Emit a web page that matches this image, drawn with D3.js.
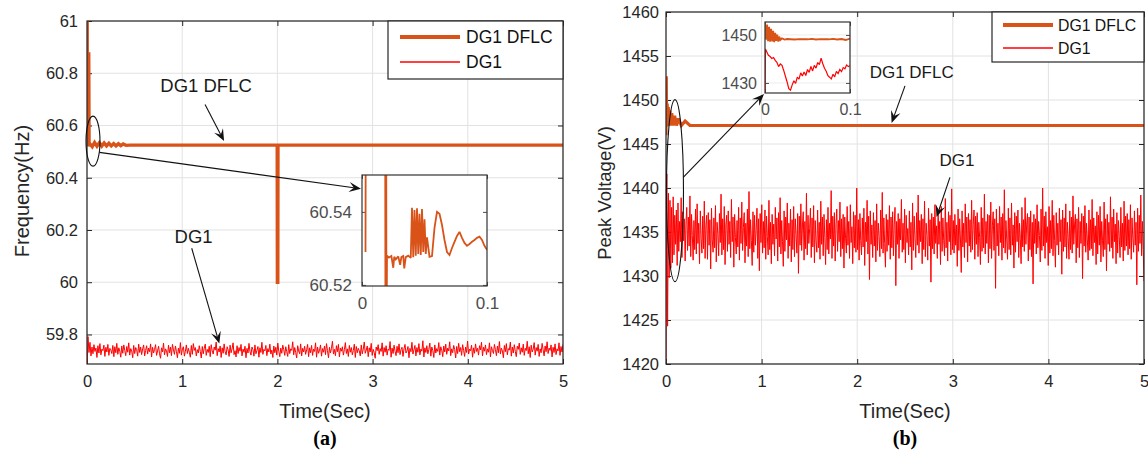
<!DOCTYPE html>
<html>
<head>
<meta charset="utf-8">
<script src="https://cdn.jsdelivr.net/npm/d3@7"></script>
<style>
  body { margin: 0; background: #fff; }
  svg text { font-family: "Liberation Sans", Arial, Helvetica, sans-serif; }
</style>
</head>
<body>
<script>
// ---------------- (a) frequency ----------------
const timeTicks = [0, 1, 2, 3, 4, 5];
const freqTicks = [59.8, 60, 60.2, 60.4, 60.6, 60.8, 61];

// DG1 with DFLC: start-up spikes, settling, and the dip at t = 2 s
const freqDflcT = [0, 0.002, 0.004, 0.006, 0.018, 0.022, 0.03, 0.055, 0.08, 0.105, 0.13, 0.155, 0.18, 0.205, 0.23, 0.255, 0.28, 0.305, 0.33, 0.355, 0.38, 0.41, 0.45, 1.998, 2.0, 2.004, 2.006, 5];
const freqDflcV = [60.52, 61.0, 60.52, 60.53, 60.88, 60.52, 60.53, 60.519, 60.535, 60.521, 60.534, 60.521, 60.533, 60.522, 60.532, 60.522, 60.531, 60.522, 60.530, 60.523, 60.529, 60.524, 60.525, 60.525, 60.0, 60.0, 60.525, 60.525];

// DG1 without DFLC, uniformly sampled over 0..5 s
const freqDg1 = [
  59.650, 59.792, 59.731, 59.770, 59.718, 59.752, 59.726, 59.761, 59.735, 59.748, 59.712, 59.757, 59.729, 59.765, 59.722, 59.744, 59.738, 59.759, 59.716, 59.751,
  59.733, 59.762, 59.720, 59.747, 59.741, 59.727, 59.758, 59.715, 59.753, 59.730, 59.766, 59.724, 59.749, 59.736, 59.713, 59.756, 59.728, 59.760, 59.739, 59.719,
  59.754, 59.732, 59.768, 59.721, 59.746, 59.737, 59.711, 59.758, 59.727, 59.750, 59.742, 59.717, 59.763, 59.731, 59.752, 59.723, 59.745, 59.760, 59.718, 59.739,
  59.757, 59.725, 59.748, 59.734, 59.764, 59.714, 59.751, 59.729, 59.743, 59.761, 59.720, 59.737, 59.755, 59.726, 59.709, 59.749, 59.733, 59.767, 59.722, 59.745,
  59.738, 59.716, 59.759, 59.730, 59.752, 59.719, 59.762, 59.741, 59.724, 59.756, 59.735, 59.711, 59.748, 59.728, 59.769, 59.721, 59.744, 59.753, 59.717, 59.736,
  59.760, 59.727, 59.747, 59.732, 59.713, 59.758, 59.724, 59.765, 59.739, 59.750, 59.718, 59.742, 59.729, 59.757, 59.735, 59.710, 59.754, 59.726, 59.748, 59.763,
  59.720, 59.743, 59.731, 59.755, 59.715, 59.761, 59.737, 59.725, 59.752, 59.740, 59.771, 59.719, 59.746, 59.733, 59.756, 59.712, 59.749, 59.728, 59.764, 59.734,
  59.722, 59.753, 59.741, 59.716, 59.759, 59.730, 59.745, 59.768, 59.723, 59.738, 59.714, 59.757, 59.727, 59.750, 59.736, 59.762, 59.718, 59.744, 59.732, 59.755,
  59.711, 59.747, 59.729, 59.766, 59.735, 59.721, 59.752, 59.742, 59.717, 59.760, 59.726, 59.739, 59.754, 59.713, 59.749, 59.731, 59.770, 59.724, 59.743, 59.737,
  59.758, 59.719, 59.746, 59.733, 59.763, 59.725, 59.740, 59.712, 59.756, 59.730, 59.751, 59.721, 59.767, 59.736, 59.715, 59.748, 59.728, 59.759, 59.742, 59.720,
  59.753, 59.734, 59.716, 59.761, 59.727, 59.745, 59.739, 59.772, 59.722, 59.750, 59.731, 59.710, 59.757, 59.737, 59.726, 59.764, 59.718, 59.747, 59.733, 59.755,
  59.724, 59.741, 59.762, 59.715, 59.749, 59.730, 59.758, 59.720, 59.744, 59.735, 59.768, 59.713, 59.752, 59.728, 59.740, 59.760, 59.717, 59.746, 59.732, 59.756,
  59.723, 59.765, 59.738, 59.711, 59.751, 59.729, 59.747, 59.774, 59.725, 59.743, 59.719, 59.757, 59.734, 59.762, 59.714, 59.748, 59.736, 59.753, 59.721, 59.742,
  59.769, 59.727, 59.745, 59.716, 59.758, 59.732, 59.750, 59.722, 59.739, 59.763, 59.712, 59.754, 59.730, 59.747, 59.737, 59.718, 59.760, 59.726, 59.744, 59.771,
  59.728, 59.740, 59.756, 59.715, 59.749, 59.733, 59.766, 59.720, 59.743, 59.731, 59.709, 59.752, 59.738, 59.761, 59.724, 59.746, 59.735, 59.768, 59.717, 59.750,
  59.732, 59.757, 59.721, 59.744, 59.739, 59.773, 59.713, 59.748, 59.727, 59.759, 59.736, 59.719, 59.755, 59.730, 59.764, 59.723, 59.742, 59.751, 59.716, 59.745,
  59.762, 59.729, 59.737, 59.754, 59.711, 59.747, 59.734, 59.770, 59.725, 59.741, 59.758, 59.718, 59.750, 59.732, 59.765, 59.722, 59.744, 59.736, 59.776, 59.714,
  59.749, 59.731, 59.757, 59.726, 59.743, 59.767, 59.717, 59.752, 59.738, 59.712, 59.760, 59.729, 59.746, 59.735, 59.769, 59.721, 59.753, 59.740, 59.715, 59.756,
  59.733, 59.763, 59.724, 59.748, 59.737, 59.772, 59.719, 59.745, 59.730, 59.758, 59.742, 59.710, 59.754, 59.727, 59.766, 59.734, 59.750, 59.720, 59.761, 59.739,
  59.716, 59.752, 59.731, 59.775, 59.725, 59.744, 59.738, 59.759, 59.713, 59.749, 59.728, 59.764, 59.735, 59.747, 59.721, 59.757, 59.741, 59.770, 59.718, 59.751,
  59.736, 59.760, 59.723, 59.745, 59.732, 59.768, 59.714, 59.753, 59.739, 59.727, 59.762, 59.742, 59.719, 59.756, 59.730, 59.773, 59.725, 59.748, 59.737, 59.711,
  59.758, 59.734, 59.765, 59.722, 59.746, 59.740, 59.771, 59.717, 59.752, 59.729, 59.761, 59.735, 59.715, 59.755, 59.743, 59.767, 59.724, 59.749, 59.732, 59.763,
  59.720, 59.747, 59.738, 59.774, 59.726, 59.753, 59.712, 59.759, 59.733, 59.744, 59.769, 59.721, 59.750, 59.736, 59.762, 59.716, 59.745, 59.730, 59.766, 59.741,
  59.718, 59.756, 59.734, 59.772, 59.727, 59.748, 59.739, 59.760, 59.714, 59.751, 59.731, 59.764, 59.723, 59.745, 59.737, 59.768, 59.720, 59.754, 59.733, 59.762
];

// zoomed view of DG1 DFLC over the first 0.1 s
const freqInsetTicksT = [0, 0.1];
const freqInsetTicksV = [60.52, 60.54];
const freqInsetT = [0.0028, 0.0032, 0.010, 0.0184, 0.0188, 0.0192, 0.0196, 0.0200, 0.0215, 0.0235, 0.0250, 0.0258, 0.0270, 0.0290, 0.0305, 0.0315, 0.0330, 0.0338, 0.0350, 0.0370, 0.0390, 0.0400, 0.0410, 0.0420, 0.0430, 0.0440, 0.0450, 0.0460, 0.0470, 0.0480, 0.0490, 0.0500, 0.0510, 0.0520, 0.0540, 0.0560, 0.0580, 0.0600, 0.062, 0.064, 0.066, 0.068, 0.070, 0.072, 0.074, 0.076, 0.078, 0.080, 0.082, 0.084, 0.086, 0.088, 0.090, 0.092, 0.094, 0.096, 0.098, 0.100];
const freqInsetV = [60.529, 60.60, 60.90, 60.60, 60.50, 60.60, 60.50, 60.528, 60.5275, 60.5279, 60.5247, 60.5277, 60.5270, 60.5278, 60.5255, 60.5276, 60.5279, 60.5245, 60.5276, 60.5280, 60.5274, 60.5411, 60.5276, 60.5405, 60.5280, 60.5410, 60.5285, 60.5395, 60.5282, 60.5408, 60.5290, 60.5380, 60.5285, 60.5330, 60.5277, 60.5279, 60.5356, 60.5400, 60.5395, 60.5364, 60.5323, 60.5290, 60.5282, 60.5301, 60.5318, 60.5334, 60.5345, 60.5329, 60.5315, 60.5307, 60.5312, 60.5318, 60.5323, 60.5329, 60.5332, 60.5323, 60.5307, 60.5296];

// ---------------- (b) peak voltage ----------------
const voltTicks = [1420, 1425, 1430, 1435, 1440, 1445, 1450, 1455, 1460];

const voltDflcT = [0, 0.003, 0.006, 0.012, 0.018, 0.024, 0.03, 0.04, 0.05, 0.06, 0.075, 0.09, 0.11, 0.13, 0.16, 0.2, 0.25, 0.3, 5];
const voltDflcV = [1446.0, 1452.7, 1447.0, 1449.6, 1447.0, 1449.2, 1447.1, 1448.8, 1447.1, 1448.5, 1447.1, 1448.2, 1447.1, 1447.9, 1447.1, 1447.6, 1447.1, 1447.1, 1447.1];

// DG1 without DFLC, uniformly sampled over 0..5 s
const voltDg1 = [
  1420.0, 1441.6, 1424.3, 1439.4, 1429.8, 1438.6, 1430.9, 1437.8, 1431.5, 1439.0, 1432.4, 1436.9, 1433.6, 1437.5, 1431.2, 1438.3, 1432.8, 1436.2, 1433.9, 1438.9,
  1432.1, 1437.3, 1434.0, 1436.5, 1431.7, 1435.9, 1437.8, 1432.9, 1436.7, 1433.4, 1439.1, 1432.2, 1437.0, 1434.6, 1431.8, 1436.3, 1433.0, 1437.6, 1432.5, 1438.2,
  1433.7, 1436.0, 1431.4, 1437.4, 1434.3, 1432.6, 1436.8, 1433.1, 1438.5, 1432.0, 1435.7, 1436.9, 1431.9, 1437.2, 1433.5, 1436.4, 1430.8, 1437.7, 1434.1, 1432.7,
  1436.6, 1433.2, 1438.0, 1431.6, 1436.1, 1434.8, 1432.3, 1437.1, 1433.8, 1439.3, 1432.4, 1436.5, 1433.0, 1437.9, 1431.3, 1435.8, 1436.9, 1432.8, 1437.4, 1433.6,
  1436.2, 1432.1, 1438.7, 1433.9, 1436.7, 1431.0, 1437.0, 1434.4, 1432.5, 1436.3, 1433.3, 1437.8, 1431.8, 1436.6, 1433.7, 1438.4, 1432.9, 1435.5, 1437.2, 1431.5,
  1436.0, 1433.4, 1437.6, 1432.2, 1439.6, 1433.1, 1436.4, 1434.0, 1431.2, 1437.3, 1432.7, 1436.9, 1433.5, 1435.2, 1437.7, 1432.0, 1436.5, 1430.6, 1437.1, 1433.8,
  1438.1, 1432.6, 1436.2, 1433.2, 1437.5, 1431.9, 1436.8, 1434.5, 1432.4, 1438.6, 1433.0, 1436.1, 1431.4, 1437.0, 1433.6, 1435.9, 1432.3, 1437.8, 1434.2, 1436.6,
  1431.7, 1437.2, 1433.3, 1438.9, 1432.5, 1436.3, 1433.9, 1431.1, 1437.4, 1432.8, 1436.7, 1434.1, 1438.3, 1432.0, 1436.0, 1433.4, 1437.6, 1431.6, 1436.4, 1433.0,
  1437.9, 1432.2, 1436.5, 1434.7, 1432.6, 1437.1, 1430.3, 1436.8, 1433.5, 1438.2, 1432.9, 1435.8, 1437.3, 1431.8, 1436.2, 1433.1, 1439.4, 1432.4, 1436.9, 1433.7,
  1435.4, 1437.7, 1432.1, 1436.6, 1433.3, 1438.0, 1431.5, 1436.3, 1434.0, 1432.7, 1437.5, 1433.2, 1436.1, 1431.9, 1438.5, 1433.6, 1436.7, 1432.3, 1437.0, 1434.4,
  1431.3, 1436.4, 1433.0, 1437.8, 1432.5, 1436.0, 1434.2, 1439.7, 1432.0, 1436.8, 1433.4, 1437.2, 1431.7, 1435.9, 1437.6, 1432.8, 1436.3, 1433.9, 1438.4, 1432.2,
  1436.5, 1433.1, 1437.0, 1430.9, 1436.7, 1434.3, 1432.6, 1437.9, 1433.5, 1436.2, 1432.0, 1438.1, 1433.8, 1435.6, 1431.4, 1437.3, 1433.2, 1436.9, 1432.7, 1440.0,
  1433.0, 1436.4, 1431.8, 1437.1, 1434.0, 1432.4, 1436.6, 1433.3, 1437.7, 1431.2, 1436.1, 1433.9, 1438.6, 1432.5, 1436.8, 1429.6, 1437.4, 1433.6, 1435.8, 1432.1,
  1437.2, 1433.4, 1436.3, 1431.6, 1438.2, 1432.9, 1436.0, 1434.5, 1432.2, 1437.5, 1433.1, 1439.5, 1432.6, 1436.6, 1433.7, 1431.0, 1437.0, 1432.8, 1436.4, 1433.5,
  1438.0, 1431.9, 1436.7, 1433.2, 1437.3, 1432.3, 1435.9, 1437.8, 1428.9, 1436.2, 1433.6, 1437.1, 1432.0, 1436.5, 1434.1, 1438.7, 1432.7, 1436.0, 1433.0, 1437.6,
  1431.5, 1436.9, 1433.8, 1435.4, 1432.4, 1437.4, 1433.3, 1436.1, 1430.7, 1438.3, 1432.9, 1436.8, 1434.3, 1432.1, 1437.2, 1433.5, 1439.2, 1432.6, 1436.3, 1433.9,
  1437.0, 1431.4, 1436.5, 1433.0, 1438.5, 1432.2, 1436.0, 1434.6, 1431.8, 1437.7, 1433.4, 1436.4, 1429.3, 1437.1, 1433.1, 1436.7, 1432.5, 1438.1, 1433.7, 1435.7,
  1432.0, 1437.5, 1433.6, 1436.2, 1431.3, 1437.9, 1432.8, 1436.6, 1434.0, 1432.3, 1438.8, 1433.2, 1436.1, 1431.7, 1437.3, 1433.9, 1436.9, 1432.4, 1439.9, 1433.0,
  1436.3, 1432.6, 1437.0, 1433.5, 1435.8, 1431.1, 1437.6, 1432.9, 1436.5, 1434.2, 1430.4, 1437.4, 1433.3, 1436.0, 1432.1, 1438.2, 1433.8, 1436.7, 1431.6, 1437.1,
  1433.4, 1436.4, 1432.7, 1438.6, 1433.0, 1435.9, 1437.5, 1431.9, 1436.8, 1433.6, 1437.2, 1432.2, 1436.1, 1434.4, 1431.3, 1437.8, 1432.8, 1436.6, 1433.2, 1439.3,
  1432.5, 1436.2, 1433.7, 1437.0, 1431.5, 1436.9, 1433.1, 1438.4, 1432.0, 1435.7, 1437.3, 1432.9, 1436.5, 1428.6, 1437.6, 1433.4, 1436.0, 1432.3, 1437.9, 1433.8,
  1436.7, 1431.8, 1437.1, 1433.2, 1439.8, 1432.6, 1436.3, 1434.1, 1431.9, 1437.7, 1433.0, 1436.6, 1432.4, 1438.3, 1433.5, 1435.8, 1430.9, 1437.2, 1432.7, 1436.8,
  1433.9, 1437.5, 1432.1, 1436.0, 1434.3, 1431.4, 1437.8, 1433.3, 1436.4, 1432.8, 1438.9, 1433.6, 1435.9, 1437.1, 1431.7, 1436.7, 1433.0, 1437.4, 1432.2, 1436.1,
  1429.1, 1437.0, 1433.7, 1436.5, 1432.5, 1438.1, 1433.2, 1436.2, 1434.6, 1431.6, 1437.6, 1432.9, 1440.0, 1433.4, 1436.8, 1432.0, 1437.3, 1433.8, 1435.6, 1431.2,
  1437.9, 1432.6, 1436.3, 1433.1, 1438.6, 1432.3, 1436.9, 1434.0, 1431.0, 1437.2, 1433.5, 1436.0, 1432.4, 1437.7, 1433.9, 1436.4, 1430.2, 1437.5, 1432.8, 1436.6,
  1433.3, 1438.2, 1432.0, 1436.1, 1434.4, 1431.9, 1437.4, 1433.0, 1436.7, 1432.6, 1439.1, 1433.6, 1435.8, 1437.0, 1431.5, 1436.5, 1433.2, 1437.8, 1432.1, 1436.2,
  1433.7, 1437.1, 1429.7, 1436.8, 1433.4, 1438.0, 1432.7, 1436.0, 1434.2, 1431.8, 1437.5, 1432.9, 1436.4, 1433.1, 1438.7, 1432.3, 1436.6, 1433.8, 1435.7, 1431.3,
  1437.3, 1432.5, 1436.9, 1433.5, 1437.9, 1431.6, 1436.2, 1434.0, 1432.2, 1438.4, 1433.0, 1436.5, 1430.6, 1437.0, 1433.6, 1436.1, 1432.8, 1439.0, 1433.2, 1436.7,
  1432.0, 1437.6, 1433.9, 1435.9, 1431.4, 1437.2, 1432.6, 1436.3, 1434.5, 1432.1, 1437.8, 1433.3, 1436.0, 1431.7, 1438.5, 1432.9, 1436.8, 1433.4, 1437.1, 1432.4,
  1436.4, 1433.1, 1438.1, 1431.9, 1436.6, 1434.3, 1432.7, 1437.4, 1433.5, 1436.1, 1429.0, 1437.7, 1432.8, 1436.9, 1433.7, 1439.2, 1432.3, 1436.2, 1433.0, 1429.4
];

// zoomed view of both traces over the first 0.1 s
const voltInsetTicksT = [0, 0.1];
const voltInsetTicksV = [1430, 1450];
const voltInsetDflcT = [0, 0.0012, 0.0024, 0.0036, 0.0048, 0.006, 0.0072, 0.0084, 0.0096, 0.0108, 0.012, 0.0132, 0.0144, 0.0156, 0.0168, 0.018, 0.02, 0.023, 0.026, 0.03, 0.035, 0.04, 0.045, 0.05, 0.055, 0.06, 0.065, 0.07, 0.075, 0.08, 0.085, 0.09, 0.095, 0.1];
const voltInsetDflcV = [1454.9, 1448.0, 1454.3, 1447.4, 1453.4, 1447.2, 1452.6, 1447.3, 1451.7, 1447.0, 1450.9, 1447.5, 1450.1, 1447.2, 1449.3, 1447.9, 1448.6, 1448.1, 1448.3, 1448.2, 1448.1, 1448.3, 1448.2, 1448.2, 1448.4, 1448.1, 1448.3, 1448.2, 1448.2, 1448.4, 1448.1, 1448.3, 1447.9, 1448.5];
const voltInsetDg1T = [0, 0.0005, 0.002, 0.004, 0.006, 0.008, 0.010, 0.012, 0.014, 0.016, 0.018, 0.020, 0.022, 0.024, 0.026, 0.028, 0.030, 0.032, 0.034, 0.036, 0.038, 0.040, 0.042, 0.044, 0.046, 0.048, 0.050, 0.052, 0.054, 0.056, 0.058, 0.060, 0.062, 0.064, 0.066, 0.068, 0.070, 0.072, 0.074, 0.076, 0.078, 0.080, 0.082, 0.084, 0.086, 0.088, 0.090, 0.092, 0.094, 0.096, 0.098, 0.100];
const voltInsetDg1V = [1420, 1444.1, 1443.0, 1441.5, 1441.0, 1440.2, 1440.6, 1439.4, 1438.6, 1436.8, 1437.9, 1437.3, 1435.2, 1432.8, 1430.4, 1427.6, 1427.0, 1429.2, 1430.9, 1429.8, 1432.4, 1431.6, 1434.2, 1432.9, 1434.6, 1433.1, 1435.6, 1434.4, 1436.9, 1435.0, 1437.3, 1436.2, 1438.5, 1437.6, 1440.3, 1438.0, 1436.1, 1434.9, 1433.0, 1432.4, 1431.7, 1433.6, 1432.5, 1434.8, 1433.9, 1435.6, 1434.7, 1436.4, 1435.9, 1437.5, 1436.8, 1437.2];

const seriesNames = ["DG1 DFLC", "DG1"];

// ---------------- drawing ----------------
const ORANGE = "#d95319", RED = "#ff0000", INK = "#262626", GRID = "#e2e2e2", SOFT = "#4d4d4d";
const svg = d3.select("body").append("svg")
  .attr("width", 1148).attr("height", 455).style("display", "block");

let clipCount = 0;
function clipRect(x0, y0, x1, y1) {
  const id = "clip" + (clipCount++);
  svg.append("clipPath").attr("id", id).append("rect")
    .attr("x", x0).attr("y", y0).attr("width", x1 - x0).attr("height", y1 - y0);
  return "url(#" + id + ")";
}

function styleAxis(sel, size, color) {
  sel.select(".domain").remove();
  sel.selectAll(".tick line").attr("stroke", color);
  sel.selectAll(".tick text").attr("fill", color).style("font-size", size + "px")
    .style("font-family", '"Liberation Sans", Arial, sans-serif');
}

// one set of axes with grid, inward ticks and a full frame
function axesBox(o) {
  const x = d3.scaleLinear().domain(o.xDomain).range([o.left, o.right]);
  const y = d3.scaleLinear().domain(o.yDomain).range([o.bottom, o.top]);
  const g = svg.append("g");
  g.append("rect").attr("x", o.left).attr("y", o.top)
    .attr("width", o.right - o.left).attr("height", o.bottom - o.top).attr("fill", "#fff");
  if (o.grid) {
    g.append("g").selectAll("line").data(o.xTicks).join("line")
      .attr("x1", d => x(d)).attr("x2", d => x(d)).attr("y1", o.top).attr("y2", o.bottom)
      .attr("stroke", o.gridColor || GRID).attr("stroke-width", 1);
    g.append("g").selectAll("line").data(o.yTicks).join("line")
      .attr("y1", d => y(d)).attr("y2", d => y(d)).attr("x1", o.left).attr("x2", o.right)
      .attr("stroke", o.gridColor || GRID).attr("stroke-width", 1);
  }
  const tk = o.tick || 5;
  g.append("g").attr("transform", `translate(0,${o.bottom})`)
    .call(d3.axisBottom(x).tickValues(o.xTicks).tickFormat(o.xFormat).tickSizeInner(-tk).tickSizeOuter(0).tickPadding(o.xPad))
    .call(s => styleAxis(s, o.fontSize, o.labelColor));
  g.append("g").attr("transform", `translate(${o.left},0)`)
    .call(d3.axisLeft(y).tickValues(o.yTicks).tickFormat(o.yFormat).tickSizeInner(-tk).tickSizeOuter(0).tickPadding(o.yPad))
    .call(s => styleAxis(s, o.fontSize, o.labelColor));
  g.append("g").attr("transform", `translate(0,${o.top})`)
    .call(d3.axisTop(x).tickValues(o.xTicks).tickFormat("").tickSizeInner(-tk).tickSizeOuter(0))
    .call(s => styleAxis(s, o.fontSize, o.labelColor));
  g.append("g").attr("transform", `translate(${o.right},0)`)
    .call(d3.axisRight(y).tickValues(o.yTicks).tickFormat("").tickSizeInner(-tk).tickSizeOuter(0))
    .call(s => styleAxis(s, o.fontSize, o.labelColor));
  const clip = clipRect(o.left, o.top, o.right, o.bottom);
  const data = svg.append("g").attr("clip-path", clip);
  svg.append("rect").attr("x", o.left).attr("y", o.top)
    .attr("width", o.right - o.left).attr("height", o.bottom - o.top)
    .attr("fill", "none").attr("stroke", o.frameColor || INK).attr("stroke-width", 1.2);
  return { x, y, data, g };
}

function trace(ax, ts, vs, color, width) {
  const line = d3.line().x(d => ax.x(d[0])).y(d => ax.y(d[1]));
  ax.data.append("path").datum(d3.zip(ts, vs)).attr("d", line)
    .attr("fill", "none").attr("stroke", color).attr("stroke-width", width)
    .attr("stroke-linejoin", "miter").attr("stroke-miterlimit", 2);
}
// sample instants of a uniformly sampled record
function sampled(values, t0, t1) {
  const step = (t1 - t0) / (values.length - 1);
  return values.map((_, i) => t0 + i * step);
}

function arrow(x1, y1, x2, y2) {
  const L = 12, Wd = 10;
  const ang = Math.atan2(y2 - y1, x2 - x1);
  const bx = x2 - Math.cos(ang) * L * 0.6, by = y2 - Math.sin(ang) * L * 0.6;
  svg.append("line").attr("x1", x1).attr("y1", y1).attr("x2", bx).attr("y2", by)
    .attr("stroke", "#111").attr("stroke-width", 1.1);
  svg.append("path")
    .attr("d", `M0,0L${-L},${-Wd / 2}L${-L * 0.6},0L${-L},${Wd / 2}Z`)
    .attr("transform", `translate(${x2},${y2}) rotate(${ang * 180 / Math.PI})`)
    .attr("fill", "#111");
}
function note(x, y, txt, size) {
  svg.append("text").attr("x", x).attr("y", y).text(txt)
    .attr("fill", "#1a1a1a").style("font-size", size + "px");
}
function legend(x0, y0, x1, y1, items, lineX0, lineX1, textX, rowsY, size) {
  svg.append("rect").attr("x", x0).attr("y", y0).attr("width", x1 - x0).attr("height", y1 - y0)
    .attr("fill", "#fff").attr("stroke", INK).attr("stroke-width", 1.2);
  items.forEach((it, i) => {
    svg.append("line").attr("x1", lineX0).attr("x2", lineX1).attr("y1", rowsY[i]).attr("y2", rowsY[i])
      .attr("stroke", it.color).attr("stroke-width", it.width);
    svg.append("text").attr("x", textX).attr("y", rowsY[i]).attr("dy", "0.36em").text(it.name)
      .attr("fill", "#111").style("font-size", size + "px");
  });
}
const fmtPlain = d => String(+d.toFixed(2));

// ----- panel (a) -----
const A = axesBox({
  left: 87, right: 563, top: 21, bottom: 364,
  xDomain: [0, 5], yDomain: [59.687, 61],
  xTicks: timeTicks, yTicks: freqTicks, xFormat: fmtPlain, yFormat: fmtPlain,
  xPad: 11, yPad: 9, fontSize: 16.5, labelColor: INK, grid: true
});
trace(A, sampled(freqDg1, 0, 5), freqDg1, RED, 1.0);
trace(A, freqDflcT, freqDflcV, ORANGE, 3.4);

svg.append("text").attr("transform", "translate(22,191) rotate(-90)")
  .attr("text-anchor", "middle").attr("dy", "0.36em").text("Frequency(Hz)")
  .attr("fill", INK).style("font-size", "20px");
svg.append("text").attr("x", 325).attr("y", 418).attr("text-anchor", "middle").text("Time(Sec)")
  .attr("fill", INK).style("font-size", "20px");
svg.append("text").attr("x", 325).attr("y", 445).attr("text-anchor", "middle").text("(a)")
  .attr("fill", "#000").style("font-size", "20px").style("font-weight", "bold")
  .style("font-family", '"Liberation Serif", "Times New Roman", serif');

legend(388, 21, 563, 79,
  [{ name: seriesNames[0], color: ORANGE, width: 4 }, { name: seriesNames[1], color: RED, width: 1.5 }],
  400, 460, 466, [37, 62], 17.5);

// inset of (a)
const AI = axesBox({
  left: 362, right: 487, top: 175, bottom: 286,
  xDomain: [0, 0.1], yDomain: [60.5197, 60.5501],
  xTicks: freqInsetTicksT, yTicks: freqInsetTicksV, xFormat: fmtPlain, yFormat: d => d.toFixed(2),
  xPad: 11, yPad: 10, fontSize: 17, labelColor: SOFT, grid: false, tick: 4, frameColor: "#333"
});
trace(AI, freqInsetT, freqInsetV, ORANGE, 1.8);

// callouts of (a)
svg.append("ellipse").attr("cx", A.x(0.063)).attr("cy", A.y(60.54)).attr("rx", 7).attr("ry", 25)
  .attr("fill", "none").attr("stroke", "#111").attr("stroke-width", 1.1);
arrow(A.x(0.13), A.y(60.497), AI.x(0) - 1, A.y(60.358));
note(A.x(0.77), A.y(60.73), seriesNames[0], 18.5);
arrow(A.x(1.24), A.y(60.68), A.x(1.44), A.y(60.525) - 4);
note(A.x(0.92), A.y(60.15), seriesNames[1], 18.5);
arrow(A.x(1.1), A.y(60.13), A.x(1.39), A.y(59.765));

// ----- panel (b) -----
const B = axesBox({
  left: 666, right: 1144, top: 12, bottom: 364,
  xDomain: [0, 5], yDomain: [1420, 1460],
  xTicks: timeTicks, yTicks: voltTicks, xFormat: fmtPlain, yFormat: fmtPlain,
  xPad: 11, yPad: 7, fontSize: 16.5, labelColor: INK, grid: true
});
trace(B, sampled(voltDg1, 0, 5), voltDg1, RED, 1.0);
trace(B, voltDflcT, voltDflcV, ORANGE, 3.2);

svg.append("text").attr("transform", "translate(604,193) rotate(-90)")
  .attr("text-anchor", "middle").attr("dy", "0.36em").text("Peak Voltage(V)")
  .attr("fill", INK).style("font-size", "18.5px");
svg.append("text").attr("x", 905).attr("y", 418).attr("text-anchor", "middle").text("Time(Sec)")
  .attr("fill", INK).style("font-size", "20px");
svg.append("text").attr("x", 905).attr("y", 445).attr("text-anchor", "middle").text("(b)")
  .attr("fill", "#000").style("font-size", "20px").style("font-weight", "bold")
  .style("font-family", '"Liberation Serif", "Times New Roman", serif');

legend(992, 12, 1144, 62,
  [{ name: seriesNames[0], color: ORANGE, width: 4 }, { name: seriesNames[1], color: RED, width: 1.4 }],
  1003, 1053, 1058, [25, 48], 15.8);

// inset of (b)
const BI = axesBox({
  left: 765, right: 850, top: 22, bottom: 93,
  xDomain: [0, 0.1], yDomain: [1425.8, 1455.4],
  xTicks: voltInsetTicksT, yTicks: voltInsetTicksV, xFormat: fmtPlain, yFormat: fmtPlain,
  xPad: 11, yPad: 8, fontSize: 16, labelColor: SOFT, grid: true, gridColor: "#ececec", tick: 4, frameColor: "#333"
});
trace(BI, voltInsetDflcT, voltInsetDflcV, ORANGE, 1.8);
trace(BI, voltInsetDg1T, voltInsetDg1V, RED, 1.2);

// callouts of (b)
svg.append("ellipse").attr("cx", B.x(0.094)).attr("cy", B.y(1439.7)).attr("rx", 8.5).attr("ry", 91)
  .attr("fill", "none").attr("stroke", "#111").attr("stroke-width", 1.1);
arrow(B.x(0.18), B.y(1441.2), BI.x(0) - 1, BI.y(1425.8) + 1);
note(B.x(2.13), B.y(1452.5), seriesNames[0], 17);
arrow(B.x(2.5), B.y(1451.6), B.x(2.36), B.y(1447.4));
note(B.x(2.86), B.y(1442.5), seriesNames[1], 17);
arrow(B.x(2.97), B.y(1441.2), B.x(2.83), B.y(1436.7));
</script>
</body>
</html>
